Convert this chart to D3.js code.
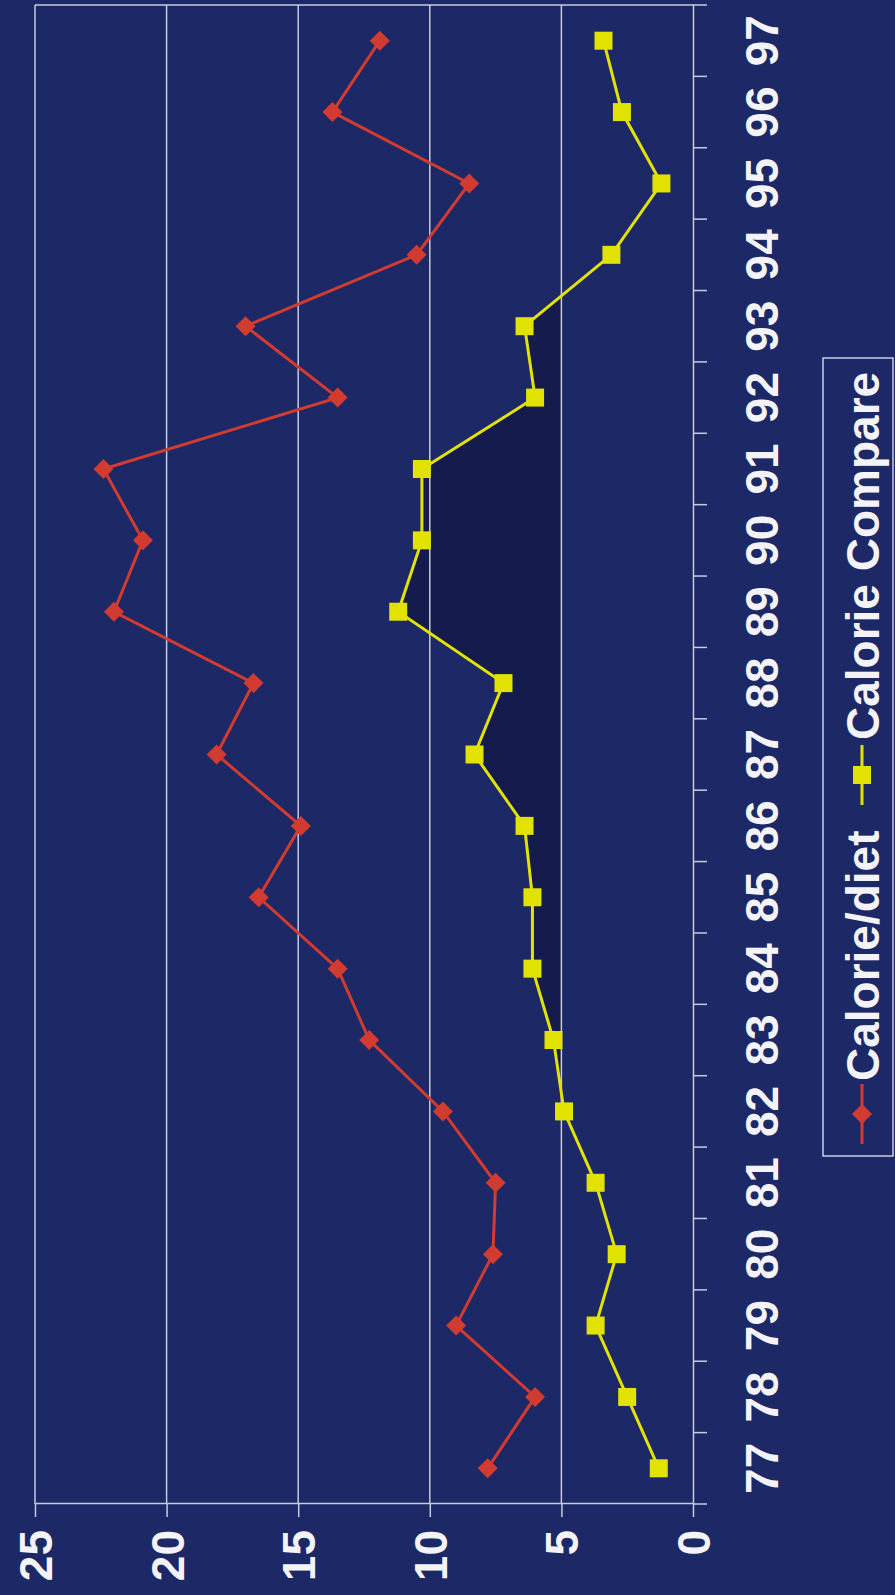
<!DOCTYPE html>
<html>
<head>
<meta charset="utf-8">
<script src="https://cdn.jsdelivr.net/npm/d3@7"></script>
<style>
  html, body { margin: 0; padding: 0; background: #1d2866; }
  svg { display: block; }
</style>
</head>
<body>
<script>
// Years on the category axis
const years = ["77","78","79","80","81","82","83","84","85","86","87",
               "88","89","90","91","92","93","94","95","96","97"];
// Series values
const calorieDiet    = [7.8, 6.0, 9.0, 7.6, 7.5, 9.5, 12.3, 13.5, 16.5, 14.9, 18.1,
                        16.7, 22.0, 20.9, 22.4, 13.5, 17.0, 10.5, 8.5, 13.7, 11.9];
const calorieCompare = [1.3, 2.5, 3.7, 2.9, 3.7, 4.9, 5.3, 6.1, 6.1, 6.4, 8.3,
                        7.2, 11.2, 10.3, 10.3, 6.0, 6.4, 3.1, 1.2, 2.7, 3.4];
const valueTicks = [0, 5, 10, 15, 20, 25];
const seriesNames = ["Calorie/diet", "Calorie Compare"];

const W = 895, H = 1595;
const BG = "#1d2866", GRID = "#c8cbe0", RED = "#d23c30", YEL = "#e2e200";
const FONT = "'Liberation Sans', Arial, Helvetica, sans-serif";

const svg = d3.select("body").append("svg").attr("width", W).attr("height", H);
svg.append("rect").attr("width", W).attr("height", H).attr("fill", BG);

// The chart is laid out landscape (H wide, W tall) and turned a quarter turn.
const g = svg.append("g").attr("transform", `translate(0,${H}) rotate(-90)`);

const plot = { left: 91, right: 1590, top: 35, bottom: 693 };
const x = d3.scaleBand().domain(years).range([plot.left, plot.right]);
const y = d3.scaleLinear().domain([0, 25]).range([plot.bottom, plot.top]);
const cx = d => x(d) + x.bandwidth() / 2;

// shaded band between the Calorie Compare line and the 5 level
g.append("clipPath").attr("id", "above5").append("rect")
  .attr("x", plot.left).attr("y", plot.top)
  .attr("width", plot.right - plot.left).attr("height", y(5) - plot.top);
g.append("path").datum(years)
  .attr("d", d3.area().x(d => cx(d)).y0(y(5)).y1((d, i) => y(calorieCompare[i])))
  .attr("fill", "#151c4d").attr("clip-path", "url(#above5)");

// horizontal gridlines
g.append("g").selectAll("line").data(valueTicks.filter(v => v > 0)).join("line")
  .attr("x1", plot.left).attr("x2", plot.right)
  .attr("y1", d => y(d)).attr("y2", d => y(d))
  .attr("stroke", GRID).attr("stroke-width", 1.5);
// plot frame right edge
g.append("line").attr("x1", plot.right).attr("x2", plot.right)
  .attr("y1", plot.top).attr("y2", plot.bottom)
  .attr("stroke", GRID).attr("stroke-width", 1.5);

// value axis
const yAxis = g.append("g").attr("transform", `translate(${plot.left},0)`)
  .call(d3.axisLeft(y).tickValues(valueTicks).tickSize(13).tickSizeOuter(0)
        .tickPadding(13).tickFormat(d3.format("d")));
yAxis.select(".domain").attr("stroke", GRID).attr("stroke-width", 1.5);
yAxis.selectAll(".tick line").attr("stroke", GRID).attr("stroke-width", 1.5);
yAxis.selectAll("text").attr("fill", "#f4f4f8").attr("font-family", FONT)
  .attr("font-weight", "bold").attr("font-size", 46).attr("dy", "0.36em");

// category axis
const xAxis = g.append("g").attr("transform", `translate(0,${plot.bottom})`)
  .call(d3.axisBottom(x).tickSize(0).tickSizeOuter(0));
xAxis.select(".domain").attr("stroke", GRID).attr("stroke-width", 1.5);
xAxis.selectAll("text").attr("fill", "#f4f4f8").attr("font-family", FONT)
  .attr("font-weight", "bold").attr("font-size", 46).attr("y", 85).attr("dy", 0);
// tick marks between categories
xAxis.append("g").selectAll("line")
  .data(years.map(d => x(d)).concat([plot.right])).join("line")
  .attr("x1", d => d).attr("x2", d => d).attr("y1", 0).attr("y2", 14)
  .attr("stroke", GRID).attr("stroke-width", 1.5);

// series
const diamond = d3.symbol(d3.symbolSquare, 200);
const square = d3.symbol(d3.symbolSquare, 324);
const line = vals => d3.line().x(d => cx(d)).y((d, i) => y(vals[i]))(years);

g.append("path").attr("d", line(calorieCompare)).attr("fill", "none")
  .attr("stroke", YEL).attr("stroke-width", 3);
g.append("g").selectAll("path").data(years).join("path")
  .attr("d", square)
  .attr("transform", (d, i) => `translate(${cx(d)},${y(calorieCompare[i])})`)
  .attr("fill", YEL);

g.append("path").attr("d", line(calorieDiet)).attr("fill", "none")
  .attr("stroke", RED).attr("stroke-width", 3);
g.append("g").selectAll("path").data(years).join("path")
  .attr("d", diamond)
  .attr("transform", (d, i) => `translate(${cx(d)},${y(calorieDiet[i])}) rotate(45)`)
  .attr("fill", RED);

// legend
const legend = g.append("g").attr("transform", "translate(439,823)");
legend.append("rect").attr("width", 798).attr("height", 70)
  .attr("fill", BG).attr("stroke", GRID).attr("stroke-width", 1.5);
const items = [
  { name: seriesNames[0], color: RED, sym: diamond, rot: 45, at: 12, text: 75 },
  { name: seriesNames[1], color: YEL, sym: square, rot: 0, at: 351, text: 416 }
];
items.forEach(it => {
  const gi = legend.append("g");
  gi.append("line").attr("x1", it.at).attr("x2", it.at + 60)
    .attr("y1", 39).attr("y2", 39).attr("stroke", it.color).attr("stroke-width", 3);
  gi.append("path").attr("d", it.sym)
    .attr("transform", `translate(${it.at + 30},39) rotate(${it.rot})`)
    .attr("fill", it.color);
  gi.append("text").attr("x", it.text).attr("y", 56).text(it.name)
    .attr("fill", "#f4f4f8").attr("font-family", FONT)
    .attr("font-weight", "bold").attr("font-size", 46);
});
</script>
</body>
</html>
